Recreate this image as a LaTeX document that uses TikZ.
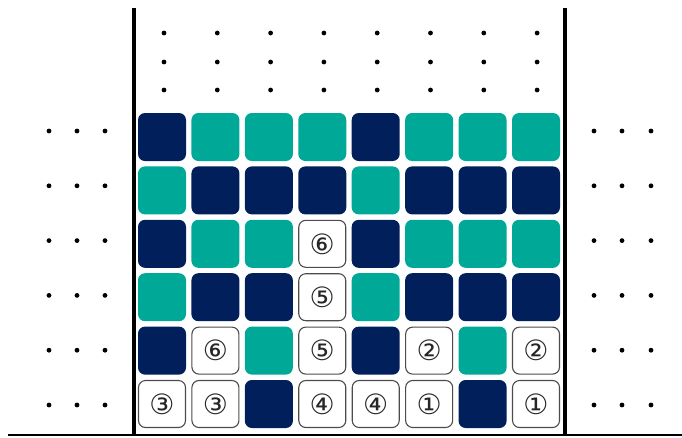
\documentclass[tikz,border=0pt]{standalone}
\usepackage{fontspec}
\newfontfamily\circfont{DejaVu Sans}
\definecolor{navy}{HTML}{001F5B}
\definecolor{tealc}{HTML}{00A898}
\expandafter\def\csname labN\endcsname{}
\expandafter\def\csname labT\endcsname{}
\expandafter\def\csname lab1\endcsname{①}
\expandafter\def\csname lab2\endcsname{②}
\expandafter\def\csname lab3\endcsname{③}
\expandafter\def\csname lab4\endcsname{④}
\expandafter\def\csname lab5\endcsname{⑤}
\expandafter\def\csname lab6\endcsname{⑥}
\tikzset{
  cellbase/.style={minimum size=48pt, inner sep=0pt, rounded corners=7pt, font=\circfont\fontsize{28}{28}\selectfont},
  cellN/.style={cellbase, fill=navy},
  cellT/.style={cellbase, fill=tealc},
  cellW/.style={cellbase, draw=black!70, line width=1.1pt, fill=white, minimum size=47pt, text=black!85},
  v-N/.style={cellN}, v-T/.style={cellT},
  v-1/.style={cellW}, v-2/.style={cellW}, v-3/.style={cellW},
  v-4/.style={cellW}, v-5/.style={cellW}, v-6/.style={cellW},
  wall/.style={line width=3.5pt, black},
  floorline/.style={line width=1.8pt, black},
  dotmark/.style={fill=black}
}
\begin{document}
\begin{tikzpicture}[x=1pt,y=-1pt]
\useasboundingbox (0,0) rectangle (682,437);
% walls and floor
\coordinate (wlt) at (134,8);
\coordinate (wlb) at (134,434);
\coordinate (wrt) at (565,8);
\coordinate (wrb) at (565,434);
\coordinate (fl) at (8,435);
\coordinate (fr) at (682,435);
\draw[floorline] (fl) -- (fr);
\draw[wall] (wlt) -- (wlb);
\draw[wall] (wrt) -- (wrb);
% cells
\foreach \r/\row in {1/{N,T,T,T,N,T,T,T},2/{T,N,N,N,T,N,N,N},3/{N,T,T,6,N,T,T,T},4/{T,N,N,5,T,N,N,N},5/{N,6,T,5,N,2,T,2},6/{3,3,N,4,4,1,N,1}}{
  \foreach \v [count=\c] in \row {
    \node[v-\v] (c-\r-\c) at ({162+53.43*(\c-1)},{137+53.4*(\r-1)}) {\csname lab\v\endcsname};
  }
}
% top dots
\foreach \c in {0,...,7}{
  \foreach \y in {33,62,90}{
    \fill[dotmark] ({164+53.3*\c},\y) circle (2.4pt);
  }
}
% side dots
\foreach \r in {0,...,5}{
  \foreach \x in {49,77,105,594,622,651}{
    \fill[dotmark] (\x,{131+54.8*\r}) circle (2.4pt);
  }
}
\end{tikzpicture}
\end{document}
